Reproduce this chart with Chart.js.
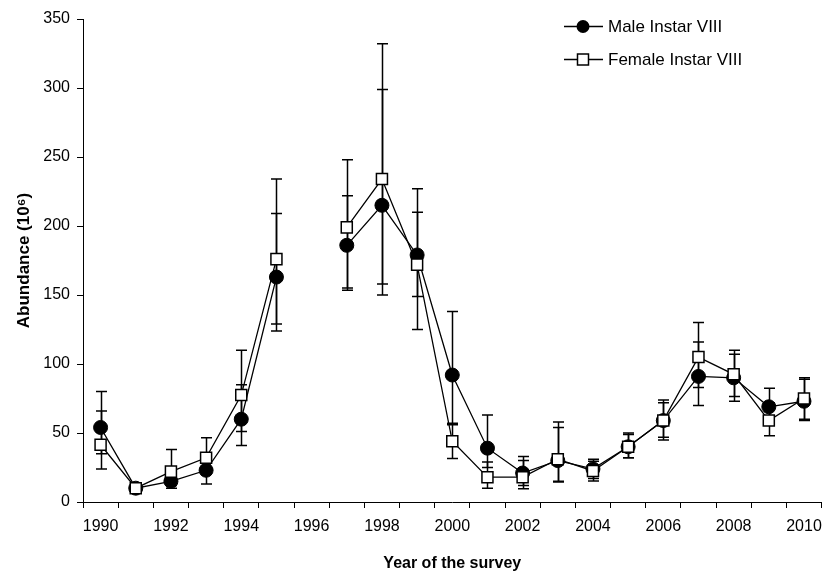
<!DOCTYPE html>
<html>
<head>
<meta charset="utf-8">
<script src="https://cdn.jsdelivr.net/npm/chart.js@4.4.1/dist/chart.umd.min.js"></script>
<style>
  html, body { margin: 0; padding: 0; background: #fff; }
  #wrap { width: 831px; height: 582px; }
</style>
</head>
<body>
<div id="wrap"><canvas id="chart" width="831" height="582"></canvas></div>
<script>
const years = ['1990', '1991', '1992', '1993', '1994', '1995', '1996', '1997', '1998', '1999', '2000',
  '2001', '2002', '2003', '2004', '2005', '2006', '2007', '2008', '2009', '2010'];

// no survey in 1996
const maleMean = [54, 10, 15, 23, 60, 163, null, 186, 215, 179, 92, 39, 21, 30, 24, 40, 59, 91, 90, 69, 73];
const maleLow  = [35, 8, 10, 13, 41, 129, null, 155, 150, 149, 57, 25, 12, 14.5, 17, 32, 45, 70, 73, 57, 59];
const maleHigh = [80, 12, 22, 34, 85, 209, null, 222, 299, 227, 138, 63, 33, 54, 31, 50, 74, 116, 107, 82.5, 89];

const femaleMean = [41.5, 10, 22, 32, 77.5, 176, null, 199, 234, 172, 44, 18, 18, 31, 22.5, 40, 59, 105, 92.5, 59, 75];
const femaleLow  = [24, 7, 12, 21, 51, 124, null, 153.5, 158, 125, 31.5, 10, 9.6, 15, 15.3, 32, 47, 83, 76.5, 48, 60];
const femaleHigh = [66, 12, 38, 46.5, 110, 234, null, 248, 332, 210, 56, 29, 30, 58, 29.5, 49, 72, 130, 110, 72, 90];

const yTicks = [0, 50, 100, 150, 200, 250, 300, 350];

Chart.defaults.font.family = "'Liberation Sans', Arial, sans-serif";
Chart.defaults.color = '#000';

// vertical error bars with caps, drawn under the markers
const errorBars = {
  id: 'errorBars',
  beforeDatasetsDraw(chart) {
    const ctx = chart.ctx;
    const yScale = chart.scales.y;
    ctx.save();
    ctx.strokeStyle = '#000';
    ctx.lineWidth = 1.5;
    chart.data.datasets.forEach((ds, i) => {
      const meta = chart.getDatasetMeta(i);
      meta.data.forEach((pt, j) => {
        const lo = ds.errLow[j];
        const hi = ds.errHigh[j];
        if (lo == null || hi == null) return;
        const x = Math.round(pt.x) + 0.5;
        const yl = yScale.getPixelForValue(lo);
        const yh = yScale.getPixelForValue(hi);
        ctx.beginPath();
        ctx.moveTo(x, yl);
        ctx.lineTo(x, yh);
        ctx.moveTo(x - 5.5, yl);
        ctx.lineTo(x + 5.5, yl);
        ctx.moveTo(x - 5.5, yh);
        ctx.lineTo(x + 5.5, yh);
        ctx.stroke();
      });
    });
    ctx.restore();
  }
};

// legend: short line with the marker in the middle, label to the right
const lineLegend = {
  id: 'lineLegend',
  afterDraw(chart) {
    const ctx = chart.ctx;
    ctx.save();
    ctx.strokeStyle = '#000';
    ctx.lineWidth = 1.3;
    ctx.font = "17px 'Liberation Sans', Arial, sans-serif";
    ctx.textBaseline = 'middle';
    ctx.fillStyle = '#000';

    const rows = [
      { y: 26, label: 'Male Instar VIII', shape: 'circle' },
      { y: 59, label: 'Female Instar VIII', shape: 'square' }
    ];
    rows.forEach(r => {
      ctx.beginPath();
      ctx.moveTo(564, r.y + 0.5);
      ctx.lineTo(603, r.y + 0.5);
      ctx.stroke();
      if (r.shape === 'circle') {
        ctx.beginPath();
        ctx.arc(583, r.y + 0.5, 6.5, 0, Math.PI * 2);
        ctx.fillStyle = '#000';
        ctx.fill();
      } else {
        ctx.fillStyle = '#fff';
        ctx.fillRect(577.5, r.y - 5, 11, 11);
        ctx.lineWidth = 1.5;
        ctx.strokeRect(577.5, r.y - 5, 11, 11);
        ctx.lineWidth = 1.3;
      }
      ctx.fillStyle = '#000';
      ctx.fillText(r.label, 608, r.y + 1);
    });
    ctx.restore();
  }
};

const ctx = document.getElementById('chart').getContext('2d');
new Chart(ctx, {
  type: 'line',
  data: {
    labels: years,
    datasets: [
      {
        label: 'Male Instar VIII',
        data: maleMean,
        errLow: maleLow,
        errHigh: maleHigh,
        order: 2,
        borderColor: '#000',
        borderWidth: 1.3,
        pointStyle: 'circle',
        pointRadius: 7,
        pointBackgroundColor: '#000',
        pointBorderColor: '#000',
        pointBorderWidth: 1,
        spanGaps: false,
        tension: 0
      },
      {
        label: 'Female Instar VIII',
        data: femaleMean,
        errLow: femaleLow,
        errHigh: femaleHigh,
        order: 1,
        borderColor: '#000',
        borderWidth: 1.3,
        pointStyle: 'rect',
        pointRadius: 7.8,
        pointBackgroundColor: '#fff',
        pointBorderColor: '#000',
        pointBorderWidth: 1.5,
        spanGaps: false,
        tension: 0
      }
    ]
  },
  options: {
    responsive: false,
    animation: false,
    devicePixelRatio: 1,
    layout: { padding: { left: 0, right: 4, top: 19, bottom: 0 } },
    plugins: {
      legend: { display: false },
      tooltip: { enabled: false }
    },
    scales: {
      x: {
        type: 'category',
        offset: true,
        grid: { offset: true, drawOnChartArea: false, drawTicks: true, tickLength: 6, color: '#000', tickColor: '#000' },
        border: { color: '#000', width: 1 },
        ticks: {
          autoSkip: false,
          maxRotation: 0,
          padding: 9,
          font: { size: 16 },
          callback: (v, i) => (i % 2 === 0 ? years[i] : '')
        },
        title: {
          display: true,
          text: 'Year of the survey',
          font: { size: 16, weight: 'bold' },
          padding: { top: 0, bottom: 9 }
        },
        afterFit: s => { s.height = 80; }
      },
      y: {
        min: 0,
        max: 350,
        grid: { drawOnChartArea: false, drawTicks: true, tickLength: 6, color: '#000', tickColor: '#000' },
        border: { color: '#000', width: 1 },
        afterBuildTicks: s => { s.ticks = yTicks.map(v => ({ value: v })); },
        ticks: { padding: 7, font: { size: 16 } },
        title: {
          display: true,
          text: 'Abundance (10⁶)',
          font: { size: 17, weight: 'bold' },
          padding: { top: 14, bottom: 0 }
        },
        afterFit: s => { s.width = 83; }
      }
    }
  },
  plugins: [errorBars, lineLegend]
});
</script>
</body>
</html>
